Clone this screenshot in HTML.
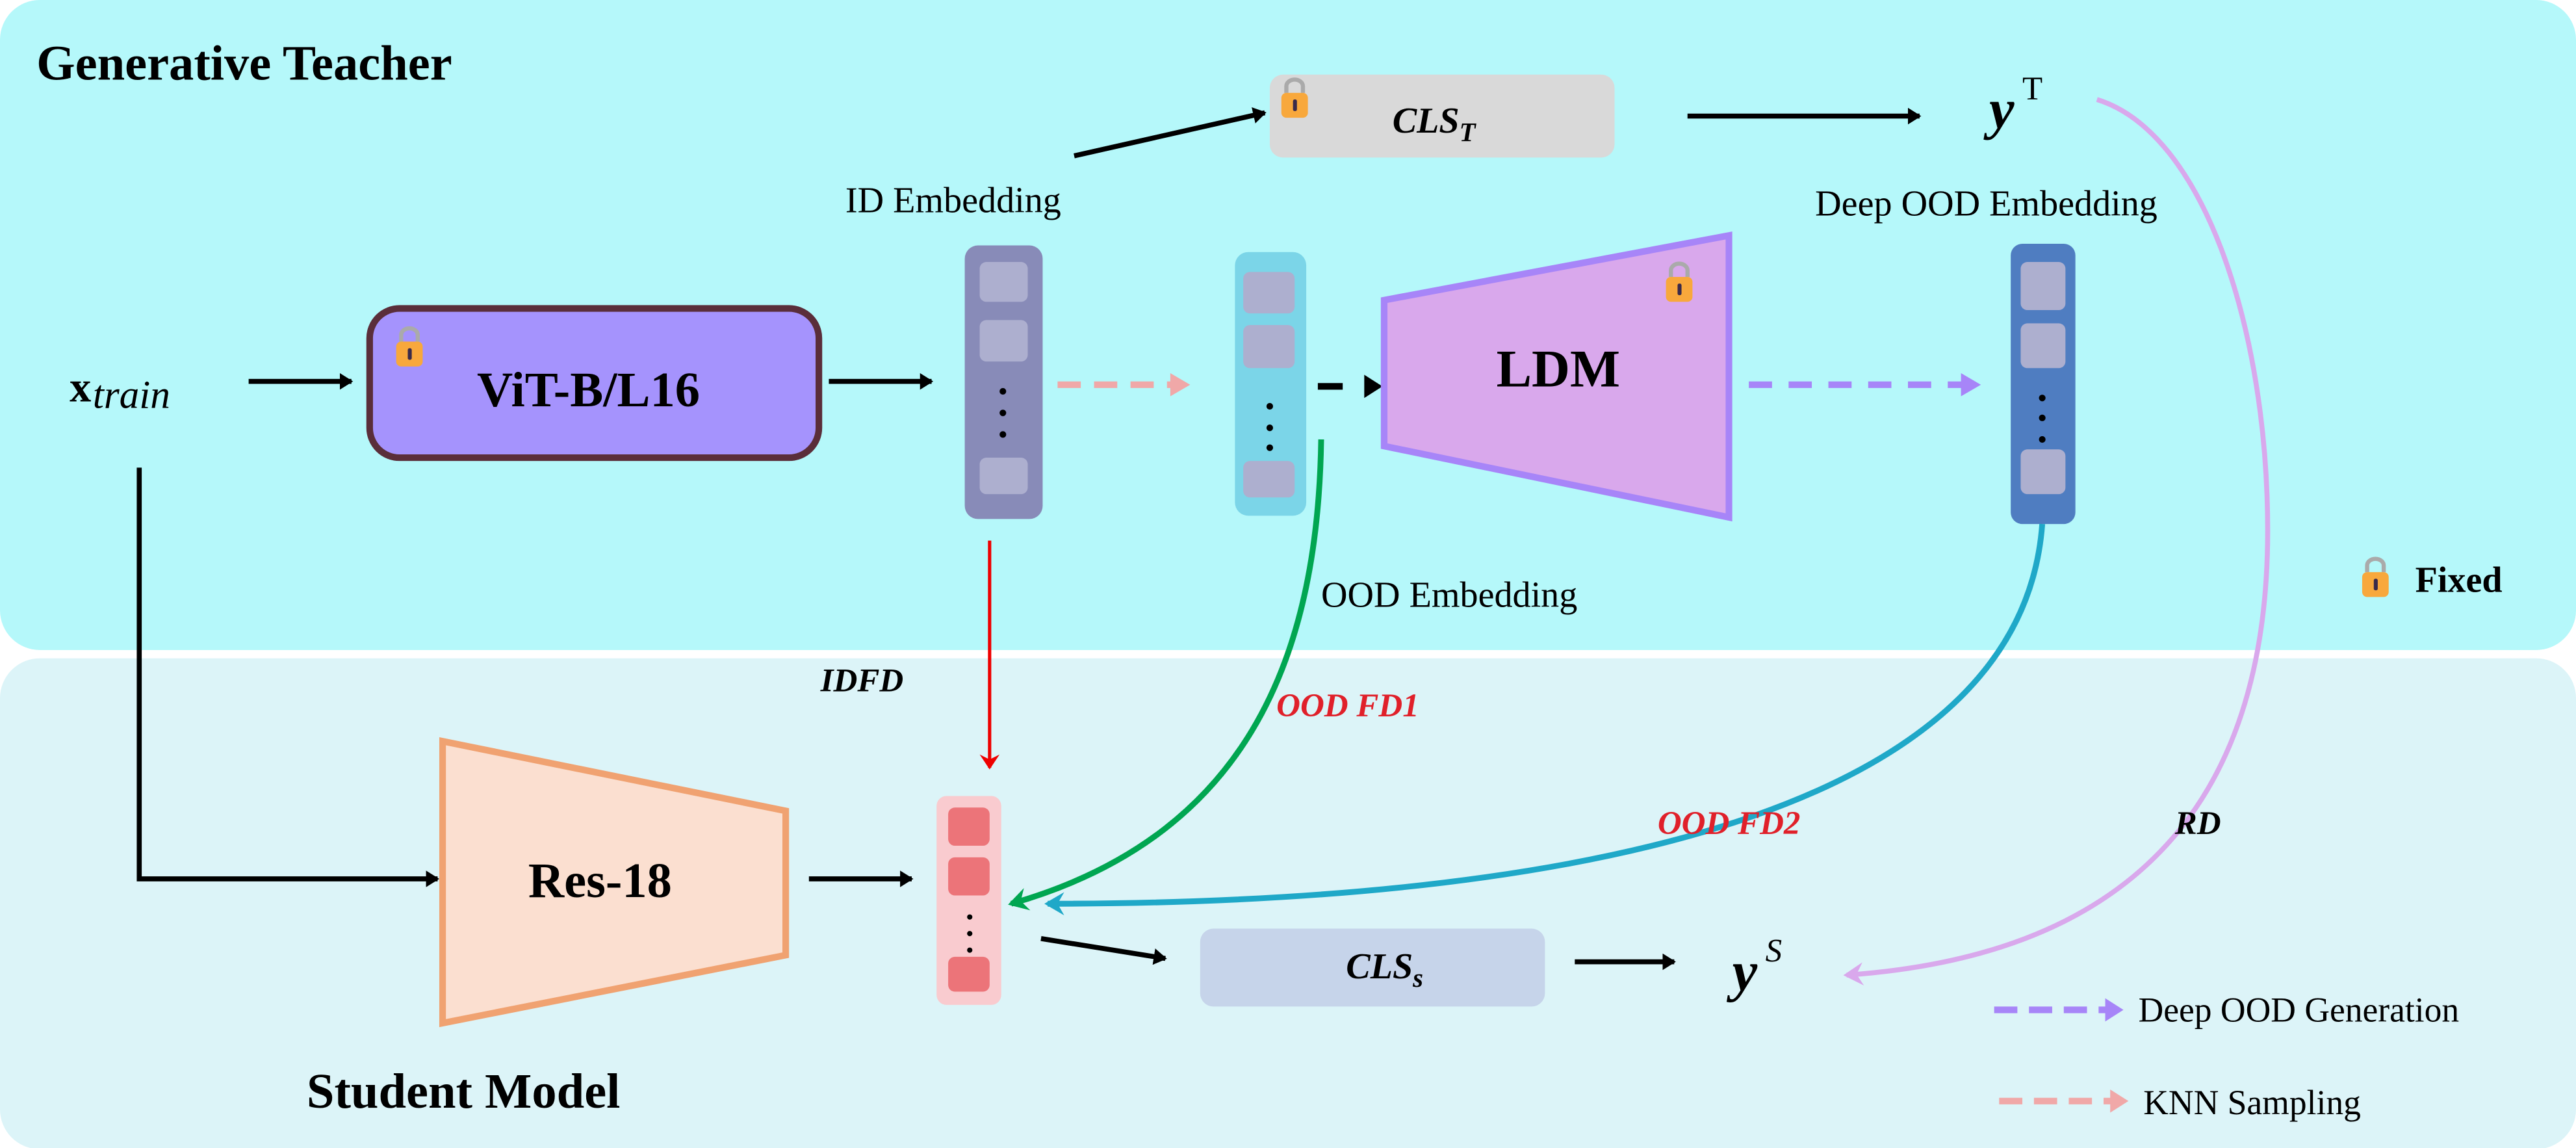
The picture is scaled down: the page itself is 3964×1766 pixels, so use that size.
<!DOCTYPE html>
<html><head><meta charset="utf-8"><style>
html,body{margin:0;padding:0;background:#fff}
svg{display:block}
text{font-family:"Liberation Serif",serif}
</style></head><body>
<svg width="3964" height="1766" viewBox="0 0 1554 692.3" preserveAspectRatio="none" xmlns="http://www.w3.org/2000/svg">
<defs>
<marker id="ab" markerWidth="10" markerHeight="10" refX="7" refY="5" orient="auto" markerUnits="userSpaceOnUse"><path d="M0,0 L8,5 L0,10 Z" fill="#000"/></marker>
<marker id="ar" markerWidth="10" markerHeight="12" refX="8" refY="6" orient="auto" markerUnits="userSpaceOnUse"><path d="M0,0 L9,6 L0,12 L3,6 Z" fill="#e00"/></marker>
<marker id="ag" markerWidth="14" markerHeight="14" refX="10" refY="7" orient="auto" markerUnits="userSpaceOnUse"><path d="M0,0 L12,7 L0,14 L4,7 Z" fill="#00a651"/></marker>
<marker id="at" markerWidth="14" markerHeight="14" refX="10" refY="7" orient="auto" markerUnits="userSpaceOnUse"><path d="M0,0 L12,7 L0,14 L4,7 Z" fill="#1fa8c8"/></marker>
<marker id="al" markerWidth="14" markerHeight="14" refX="10" refY="7" orient="auto" markerUnits="userSpaceOnUse"><path d="M0,0 L12,7 L0,14 L4,7 Z" fill="#d9a8ec"/></marker>
<g id="lock"><path d="M3,8 V4 A5,4 0 0 1 13,4 V8" fill="none" stroke="#aaa" stroke-width="2.5"/><rect x="0" y="8" width="16" height="15" rx="3" fill="#f8a83c"/><rect x="7" y="12" width="2.4" height="7" rx="1" fill="#3a2a4a"/></g>
</defs>
<rect x="0" y="0" width="1554" height="392" rx="24" fill="#b5f8fa"/>
<rect x="0" y="397" width="1554" height="296" rx="24" fill="#dcf4f8"/>
<text x="22" y="48" font-size="30" font-weight="bold">Generative Teacher</text>
<text x="185" y="668" font-size="30" font-weight="bold">Student Model</text>

<rect x="766" y="45" width="208" height="50" rx="8" fill="#d9d9d9"/>
<use href="#lock" x="773" y="48"/>
<text x="840" y="80" font-size="22" font-weight="bold" font-style="italic">CLS<tspan font-size="16" dy="5">T</tspan></text>
<line x1="648" y1="94" x2="763" y2="68" stroke="#000" stroke-width="3" marker-end="url(#ab)"/>
<line x1="1018" y1="70" x2="1158" y2="70" stroke="#000" stroke-width="3" marker-end="url(#ab)"/>
<text x="1200" y="77" font-size="34" font-weight="bold" font-style="italic">y</text><text x="1220" y="60" font-size="20">T</text>

<text x="510" y="128" font-size="22">ID Embedding</text>
<text x="1095" y="130" font-size="22">Deep OOD Embedding</text>

<rect x="223" y="186" width="271" height="90" rx="18" fill="#a593fd" stroke="#5a2e3a" stroke-width="4"/>
<use href="#lock" x="239" y="198"/>
<text x="355" y="245" font-size="30" font-weight="bold" text-anchor="middle">ViT-B/L16</text>
<text x="42" y="242" font-size="26" font-weight="bold">x</text><text x="56" y="246" font-size="24" font-style="italic">train</text>
<line x1="150" y1="230" x2="212" y2="230" stroke="#000" stroke-width="3" marker-end="url(#ab)"/>
<line x1="500" y1="230" x2="562" y2="230" stroke="#000" stroke-width="3" marker-end="url(#ab)"/>

<rect x="582" y="148" width="47" height="165" rx="8" fill="#888bb8"/>
<rect x="591" y="158" width="29" height="24" rx="4" fill="#adafcf"/>
<rect x="591" y="193" width="29" height="25" rx="4" fill="#adafcf"/>
<rect x="591" y="276" width="29" height="22" rx="4" fill="#adafcf"/>
<circle cx="605" cy="236" r="2" fill="#000"/><circle cx="605" cy="249" r="2" fill="#000"/><circle cx="605" cy="262" r="2" fill="#000"/>
<line x1="638" y1="232" x2="712" y2="232" stroke="#f0a8a8" stroke-width="4" stroke-dasharray="14,8"/>
<path d="M706,225 L718,232 L706,239 Z" fill="#f0a8a8"/>

<rect x="745" y="152" width="43" height="159" rx="8" fill="#7bd5e8"/>
<rect x="750" y="164" width="31" height="25" rx="4" fill="#adafcf"/>
<rect x="750" y="196" width="31" height="26" rx="4" fill="#adafcf"/>
<rect x="750" y="278" width="31" height="22" rx="4" fill="#adafcf"/>
<circle cx="766" cy="245" r="2" fill="#000"/><circle cx="766" cy="258" r="2" fill="#000"/><circle cx="766" cy="270" r="2" fill="#000"/>
<line x1="795" y1="233" x2="810" y2="233" stroke="#000" stroke-width="4"/>
<path d="M823,226 L834,233 L823,240 Z" fill="#000"/>

<path d="M835,181 L1043,142 L1043,312 L835,269 Z" fill="#d9a8ec" stroke="#a785f8" stroke-width="4"/>
<use href="#lock" x="1005" y="159"/>
<text x="940" y="233" font-size="32" font-weight="bold" text-anchor="middle">LDM</text>
<line x1="1055" y1="232" x2="1185" y2="232" stroke="#a785f8" stroke-width="4" stroke-dasharray="14,10"/>
<path d="M1183,225 L1195,232 L1183,239 Z" fill="#a785f8"/>

<rect x="1213" y="147" width="39" height="169" rx="7" fill="#4f7dc1"/>
<rect x="1219" y="158" width="27" height="29" rx="4" fill="#adafcf"/>
<rect x="1219" y="195" width="27" height="27" rx="4" fill="#adafcf"/>
<rect x="1219" y="271" width="27" height="27" rx="4" fill="#adafcf"/>
<circle cx="1232" cy="240" r="2" fill="#000"/><circle cx="1232" cy="252" r="2" fill="#000"/><circle cx="1232" cy="265" r="2" fill="#000"/>

<text x="797" y="366" font-size="22">OOD Embedding</text>
<use href="#lock" x="1425" y="337"/>
<text x="1457" y="357" font-size="22" font-weight="bold">Fixed</text>

<line x1="597" y1="326" x2="597" y2="463" stroke="#e00" stroke-width="2" marker-end="url(#ar)"/>
<path d="M797,265 C795,400 750,505 610,545" fill="none" stroke="#00a651" stroke-width="3.5" marker-end="url(#ag)"/>
<path d="M1232,316 C1220,480 980,545 632,545" fill="none" stroke="#1fa8c8" stroke-width="3.5" marker-end="url(#at)"/>
<path d="M1265,60 C1330,80 1368,200 1368,320 C1368,470 1300,575 1114,588" fill="none" stroke="#d9a8ec" stroke-width="3" marker-end="url(#al)"/>
<text x="495" y="417" font-size="20" font-weight="bold" font-style="italic">IDFD</text>
<text x="770" y="432" font-size="20" font-weight="bold" font-style="italic" fill="#e0202a">OOD FD1</text>
<text x="1000" y="503" font-size="20" font-weight="bold" font-style="italic" fill="#e0202a">OOD FD2</text>
<text x="1312" y="503" font-size="20" font-weight="bold" font-style="italic">RD</text>

<polyline points="84,282 84,530 264,530" fill="none" stroke="#000" stroke-width="3" marker-end="url(#ab)"/>
<path d="M267,447 L474,489 L474,576 L267,617 Z" fill="#fbdfd0" stroke="#f0a271" stroke-width="4"/>
<text x="362" y="541" font-size="30" font-weight="bold" text-anchor="middle">Res-18</text>
<line x1="488" y1="530" x2="550" y2="530" stroke="#000" stroke-width="3" marker-end="url(#ab)"/>
<rect x="565" y="480" width="39" height="126" rx="6" fill="#f9cbcf"/>
<rect x="572" y="487" width="25" height="23" rx="4" fill="#ec7479"/>
<rect x="572" y="517" width="25" height="23" rx="4" fill="#ec7479"/>
<rect x="572" y="577" width="25" height="21" rx="4" fill="#ec7479"/>
<circle cx="585" cy="553" r="1.6" fill="#000"/><circle cx="585" cy="563" r="1.6" fill="#000"/><circle cx="585" cy="573" r="1.6" fill="#000"/>
<line x1="628" y1="566" x2="703" y2="578" stroke="#000" stroke-width="3" marker-end="url(#ab)"/>
<rect x="724" y="560" width="208" height="47" rx="8" fill="#c6d4ea"/>
<text x="812" y="590" font-size="22" font-weight="bold" font-style="italic">CLS<tspan font-size="16" dy="5">s</tspan></text>
<line x1="950" y1="580" x2="1010" y2="580" stroke="#000" stroke-width="3" marker-end="url(#ab)"/>
<text x="1045" y="597" font-size="34" font-weight="bold" font-style="italic">y</text><text x="1065" y="580" font-size="20" font-style="italic">S</text>

<line x1="1203" y1="609" x2="1272" y2="609" stroke="#a785f8" stroke-width="4" stroke-dasharray="14,7"/>
<path d="M1270,602 L1281,609 L1270,616 Z" fill="#a785f8"/>
<text x="1290" y="616" font-size="21">Deep OOD Generation</text>
<line x1="1206" y1="664" x2="1275" y2="664" stroke="#f0a8a8" stroke-width="4" stroke-dasharray="14,7"/>
<path d="M1273,657 L1284,664 L1273,671 Z" fill="#f0a8a8"/>
<text x="1293" y="672" font-size="21">KNN Sampling</text>
</svg>
</body></html>
